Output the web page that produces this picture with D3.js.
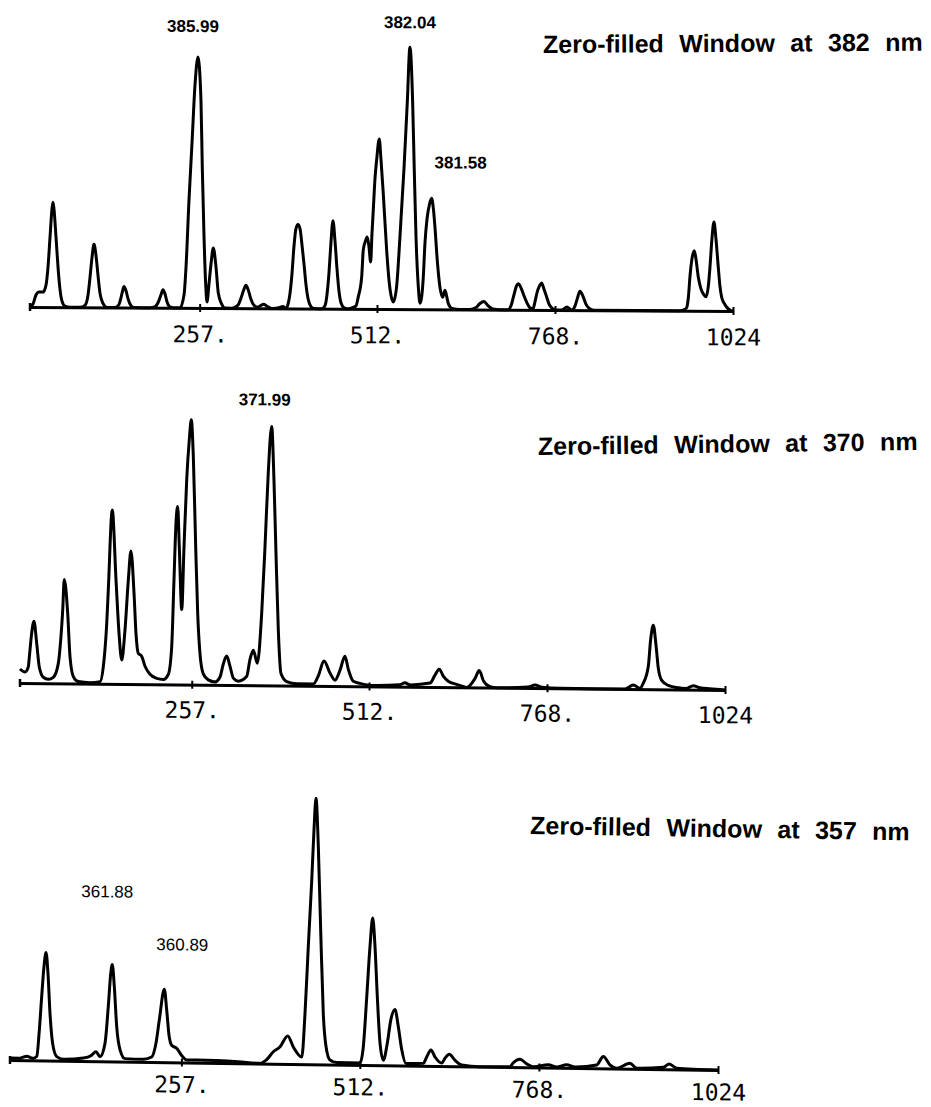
<!DOCTYPE html>
<html>
<head>
<meta charset="utf-8">
<script src="https://cdn.jsdelivr.net/npm/d3@7"></script>
<style>
  html, body { margin: 0; background: #fff; }
  svg { display: block; }
</style>
</head>
<body>
<svg id="chart" width="931" height="1107"></svg>
<script>
// ---- data -------------------------------------------------------------
const tickValues = [257, 512, 768, 1024];
const tickLabels = ["257.", "512.", "768.", "1024"];

const windowTitles = [
  "Zero-filled Window at 382 nm",
  "Zero-filled Window at 370 nm",
  "Zero-filled Window at 357 nm"
];

// first plotted channel of each window
const channelStart = [13, 10, 12];

// spectra as [channel, intensity] pairs
const spectrum382 = [
  [13.0,0],[17.3,3],[21.6,12],[26.0,15],[31.7,15],[36.0,22],[38.9,40],[41.8,70],[44.6,98],[46.1,105],[47.5,98],[50.4,70],[53.3,40],[56.1,18],[59.0,6],[63.3,1],[70.5,0],
  [84.9,0],[92.1,2],[96.4,12],[99.3,30],[102.2,50],[105.0,63],[107.9,52],[110.8,32],[113.7,14],[118.0,4],[123.7,0],
  [135.2,0],[141.0,3],[143.9,10],[146.7,18],[148.2,21],[151.0,17],[153.9,9],[158.2,2],[162.6,0],
  [185.6,0],[192.8,1],[197.1,5],[201.4,13],[204.3,18],[207.1,14],[210.0,6],[214.3,1],[221.5,0],
  [228.7,0],[234.5,13],[237.3,40],[241.6,107],[246.0,165],[250.3,223],[254.6,251],[258.9,207],[260.8,140],[263.2,73],[265.7,23],[267.5,6],
  [270.4,24],[273.3,44],[276.6,60],[280.5,41],[283.8,15],[288.7,4],[293.4,0],
  [303.5,0],[312.1,3],[316.4,10],[320.7,19],[323.6,23],[326.5,19],[330.8,9],[335.1,3],[340.9,1],[345.2,3],[349.5,4],[353.8,2],[361.0,0],
  [372.5,1],[376.8,2],[381.1,0],[384.0,4],[386.9,15],[389.8,35],[392.6,62],[395.5,80],[398.4,84],[401.3,80],[404.1,64],[407.0,45],[409.9,24],[412.8,10],[417.1,2],[421.4,0],
  [432.9,0],[437.2,3],[440.1,14],[443.0,36],[445.8,66],[448.7,88],[451.6,68],[454.5,40],[457.3,18],[460.2,6],[464.5,1],[468.9,0],
  [476.0,1],[481.8,3],[485.1,12],[490.0,32],[492.3,59],[495.5,68],[498.0,72],[500.5,62],[502.9,47],[504.8,75],[506.7,99],[509.1,130],[511.5,149],[515.3,170],
  [517.7,150],[521.0,116],[525.9,59],[529.7,26],[532.1,14],[535.4,7],[540.3,23],[545.1,73],[550.8,140],[555.6,207],[559.4,262],[563.3,207],[565.6,140],[568.1,73],
  [571.4,23],[573.8,6],[576.2,12],[578.6,32],[581.0,66],[583.9,90],[587.5,105],[590.6,111],[593.2,100],[595.4,82],[598.7,49],[602.6,22],[606.4,12],[609.8,19],
  [614.5,6],[619.8,1],[631.3,0],
  [645.7,0],[654.4,2],[660.1,6],[665.9,8],[671.6,4],[677.4,1],[688.9,0],
  [700.4,0],[704.7,4],[709.0,15],[712.6,24],[715.2,26],[719.1,22],[723.4,14],[727.7,7],[732.0,2],[736.3,1],[739.2,8],[742.1,17],[745.7,24],[748.8,27],
  [752.1,21],[756.0,13],[759.3,6],[763.6,2],[769.4,0],
  [778.0,0],[782.3,2],[785.2,3],[789.5,1],[792.4,0],[796.7,4],[800.3,12],[803.9,19],[808.2,14],[812.5,6],[816.8,2],[824.0,0],
  [947.7,0],[953.5,1],[957.3,3],[959.9,14],[962.1,34],[965.0,52],[968.3,60],[970.7,52],[974.0,34],[977.9,22],[982.2,16],[985.1,14],[988.4,24],[990.9,44],
  [993.7,72],[996.6,89],[999.5,72],[1002.8,44],[1005.2,25],[1007.6,14],[1011.0,8],[1014.8,4],[1019.6,1],[1024.0,0]
];

const spectrum370 = [
  [10.0,14],[17.2,11],[21.9,16],[23.4,26],[26.8,50],[30.1,62],[34.0,40],[37.8,16],[43.5,6],[50.7,4],[57.9,6],[65.1,20],[68.5,43],[71.4,73],[73.7,104],
  [78.6,70],[81.9,27],[86.7,7],[93.8,2],[110.7,1],[125.1,2],[129.8,17],[134.7,60],[137.0,94],[142.7,174],[148.1,104],[152.4,51],[156.3,24],[161.0,54],
  [165.8,104],[169.6,133],[174.0,91],[176.8,51],[180.1,31],[185.0,28],[189.8,18],[197.0,10],[206.6,6],[216.1,5],[223.3,10],[228.2,38],[231.5,105],
  [234.4,162],[236.8,178],[239.1,138],[242.6,75],[245.9,138],[249.8,205],[253.5,245],[256.4,265],[259.3,228],[262.7,138],[265.6,71],[268.9,31],[273.6,11],
  [280.8,5],[290.5,3],[297.7,8],[302.4,21],[307.3,29],[312.0,19],[316.8,7],[324.0,4],[336.1,9],[340.8,26],[345.6,35],[351.3,22],[357.6,72],[362.4,139],
  [367.1,213],[372.0,259],[375.3,205],[378.2,132],[381.5,56],[385.4,12],[393.6,4],[408.0,2],[431.9,2],[439.0,10],[447.3,25],[455.9,13],[463.1,6],
  [470.3,16],[477.4,30],[482.2,17],[489.4,5],[499.0,3],[517.7,1],[556.5,2],[563.7,4],[570.9,2],[599.7,4],[606.9,12],[613.1,18],[618.8,11],[626.0,6],
  [638.1,3],[652.5,0],[664.4,9],[670.6,17],[676.4,7],[686.0,1],[695.6,0],[740.7,1],[750.7,3],[760.8,1],[786.7,0],[880.2,0],[892.1,4],[901.7,1],
  [906.5,6],[913.7,23],[917.1,50],[920.9,64],[924.8,44],[928.1,21],[933.0,9],[942.5,4],[954.5,2],[967.9,1],[978.4,4],[988.0,2],[1002.4,1],[1024.0,0]
];

const spectrum357 = [
  [12.0,2],[26.3,2],[35.9,4],[45.3,2],[50.2,4],[53.9,30],[57.3,64],[60.6,94],[63.5,108],[66.3,87],[69.2,47],[73.0,17],[78.8,4],[88.2,1.5],
  [116.8,3],[128.8,6],[134.9,9.5],[140.7,4.6],[147.8,18],[152.5,55],[156.0,88],[158.2,97],[161.1,75],[164.5,35],[169.2,12],[176.4,3],
  [202.5,2.6],[214.5,5],[220.7,19],[225.4,42],[232.6,73],[236.0,52],[239.3,27],[243.1,17],[250.3,14],[257.4,7],[264.6,2.5],[278.9,2.6],
  [338.3,1.5],[369.4,0.2],[378.9,4],[388.4,12],[398.0,17],[409.0,28],[417.0,17],[429.0,7],[433.7,51],[438.4,118],[443.3,184],[446.5,234],
  [449.4,266],[452.7,218],[456.1,134],[459.8,51],[463.7,18],[469.4,4.5],[479.0,2],[512.3,2],[517.0,18],[521.9,68],[526.6,119],[530.5,147],
  [533.7,119],[537.0,69],[540.9,22],[545.6,5],[551.3,22],[556.2,45],[562.3,56],[567.0,39],[571.9,16],[578.1,2],[602.8,2.5],[607.6,9],[613.8,16],
  [619.5,9],[629.1,3],[633.8,8],[640.0,12],[648.1,6],[657.7,1.4],[683.8,0],[726.7,0.4],[731.4,4.4],[741.0,8],[750.6,3.4],[760.0,0.7],[781.5,2.8],
  [793.4,0.6],[807.7,3],[819.6,0.9],[850.6,3.3],[860.1,12],[869.6,3.6],[879.2,0.3],[898.2,5.5],[907.8,0.6],[945.8,1.9],[954.4,5.3],[965.0,1.1],
  [988.7,0.3],[1024.0,0]
];

// wavelength annotations and the channel of the line each one marks
const lineNames382 = ["385.99", "382.04", "381.58"];
const lineChannels382 = [254.6, 559.4, 590.6];
const lineNames370 = ["371.99"];
const lineChannels370 = [372.0];
const lineNames357 = ["361.88", "360.89"];
const lineChannels357 = [158.2, 232.6];

// ---- layout -----------------------------------------------------------
const panels = [
  { spectrum: spectrum382, names: lineNames382, channels: lineChannels382,
    origin: [30, 307], length: 703, slope: 0.0057, tickPad: 14,
    labelOffsets: [[-5, -276], [0, -281], [29, -141]], labelWeight: "bold",
    title: { x: 543, y: 53, angle: -0.35 } },
  { spectrum: spectrum370, names: lineNames370, channels: lineChannels370,
    origin: [20, 683], length: 705, slope: 0.00993, tickPad: 13,
    labelOffsets: [[-7, -280]], labelWeight: "bold",
    title: { x: 538, y: 455, angle: -0.75 } },
  { spectrum: spectrum357, names: lineNames357, channels: lineChannels357,
    origin: [10, 1060], length: 708, slope: 0.01412, tickPad: 10,
    labelOffsets: [[-5, -164], [18, -112]], labelWeight: "normal",
    title: { x: 530, y: 834, angle: 0.95 } }
];

const svg = d3.select("#chart");

panels.forEach((p, i) => {
  const skew = Math.atan(p.slope) * 180 / Math.PI;
  const g = svg.append("g")
    .attr("transform", `translate(${p.origin[0]},${p.origin[1]}) skewY(${skew})`);

  const x = d3.scaleLinear().domain([channelStart[i], 1024]).range([0, p.length]);
  const y = d3.scaleLinear().domain([0, 270]).range([0, -270]);

  // channel axis
  const axis = d3.axisBottom(x)
    .tickValues(tickValues)
    .tickFormat((d, k) => tickLabels[k])
    .tickSizeOuter(0)
    .tickSizeInner(4)
    .tickPadding(p.tickPad);

  const ax = g.append("g").call(axis);
  ax.select(".domain").attr("stroke", "#000").attr("stroke-width", 3);
  ax.selectAll(".tick line").attr("y1", -4).attr("y2", 4).attr("stroke-width", 2);
  ax.selectAll(".tick text")
    .attr("fill", "#000")
    .attr("font-family", "'DejaVu Sans Mono', monospace")
    .attr("font-size", 23);
  ax.append("line")
    .attr("x1", x(channelStart[i])).attr("x2", x(channelStart[i]))
    .attr("y1", -4).attr("y2", 4)
    .attr("stroke", "#000").attr("stroke-width", 2.5);

  // spectrum trace
  const line = d3.line()
    .x(d => x(d[0]))
    .y(d => y(d[1]))
    .curve(d3.curveMonotoneX);

  g.append("path")
    .datum(p.spectrum)
    .attr("d", line)
    .attr("fill", "none")
    .attr("stroke", "#000")
    .attr("stroke-width", 3)
    .attr("stroke-linejoin", "round");

  // wavelength annotations
  p.names.forEach((name, k) => {
    g.append("text")
      .attr("x", x(p.channels[k]) + p.labelOffsets[k][0])
      .attr("y", p.labelOffsets[k][1])
      .attr("text-anchor", "middle")
      .attr("font-family", "'Liberation Sans', Arial, sans-serif")
      .attr("font-weight", p.labelWeight)
      .attr("font-size", 17)
      .attr("fill", "#000")
      .text(name);
  });

  // window title
  svg.append("text")
    .attr("transform", `translate(${p.title.x},${p.title.y}) rotate(${p.title.angle})`)
    .attr("font-family", "'Liberation Sans', Arial, sans-serif")
    .attr("font-weight", "bold")
    .attr("font-size", 25)
    .attr("word-spacing", 8.5)
    .attr("fill", "#000")
    .text(windowTitles[i]);
});
</script>
</body>
</html>
